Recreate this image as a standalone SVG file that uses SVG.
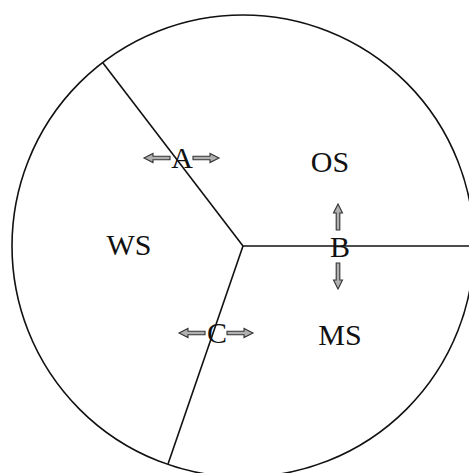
<svg xmlns="http://www.w3.org/2000/svg" width="469" height="473" viewBox="0 0 469 473">
<style>
.ln{fill:none;stroke:#111;stroke-width:1.6}
.lbl{font-family:"Liberation Serif","Times New Roman",serif;font-size:30px;fill:#111;text-anchor:middle}
.arw{fill:#b0b0b0;stroke:#333;stroke-width:1.1;stroke-linejoin:miter}
</style>
<defs>
<path id="arr" d="M0,-1.8 H17 V-4.5 L26,0 L17,4.5 V1.8 H0 Z"/>
</defs>
<rect width="469" height="473" fill="#fff"/>
<g id="circle"><circle class="ln" cx="243" cy="246" r="231"/></g>
<g id="connectors">
<line class="ln" x1="243" y1="246" x2="103" y2="63"/>
<line class="ln" x1="243" y1="246" x2="470" y2="246"/>
<line class="ln" x1="243" y1="246" x2="168" y2="464"/>
<use href="#arr" class="arw" transform="translate(170,158) rotate(180)"/>
<use href="#arr" class="arw" transform="translate(193,158)"/>
<use href="#arr" class="arw" transform="translate(338,230) rotate(-90)"/>
<use href="#arr" class="arw" transform="translate(338,263) rotate(90)"/>
<use href="#arr" class="arw" transform="translate(205,333) rotate(180)"/>
<use href="#arr" class="arw" transform="translate(227,333)"/>
</g>
<g id="OS"><text class="lbl" x="330" y="172">OS</text></g>
<g id="WS"><text class="lbl" x="129" y="255">WS</text></g>
<g id="MS"><text class="lbl" x="340" y="345">MS</text></g>
<g id="A"><text class="lbl" x="182" y="168">A</text></g>
<g id="B"><text class="lbl" x="340" y="257">B</text></g>
<g id="C"><text class="lbl" x="217" y="343">C</text></g>
</svg>
